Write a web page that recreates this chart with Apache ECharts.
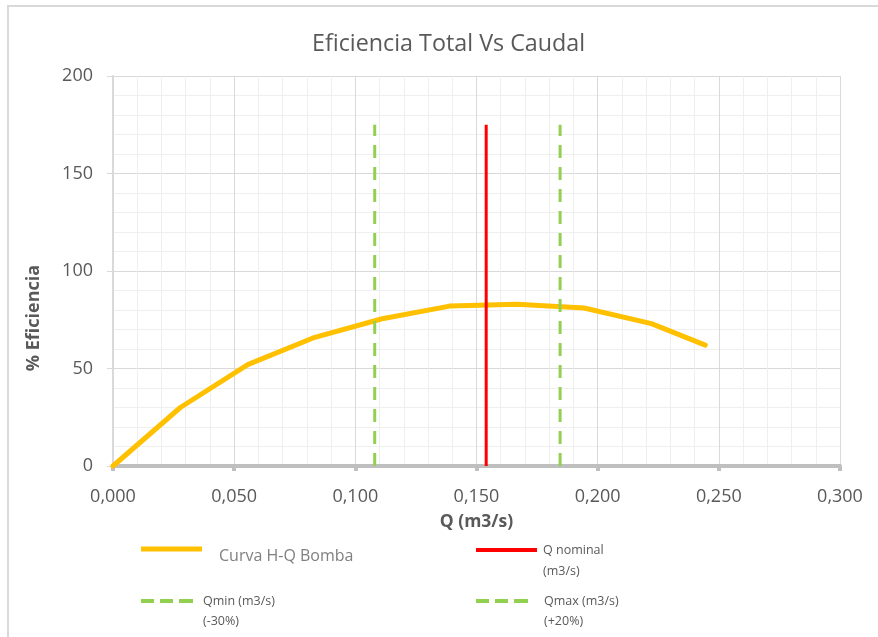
<!DOCTYPE html>
<html><head><meta charset="utf-8">
<script src="https://cdn.jsdelivr.net/npm/echarts@6/dist/echarts.min.js"></script>
<style>html,body{margin:0;padding:0;background:#fff}#c{width:878px;height:637px}</style>
</head><body><div id="c"></div>
<script>
const caudal = [0, 0.0278, 0.0556, 0.0833, 0.1111, 0.1389, 0.1667, 0.1944, 0.2222, 0.2444];
const eficiencia = [0, 30, 52, 66, 75.5, 82, 83, 81, 73, 62];
const qNominal = 0.154;
const qMin = 0.108;
const qMax = 0.1845;
const lineTop = 175;
const seriesNames = ['Curva H-Q Bomba', 'Q nominal\n(m3/s)', 'Qmin (m3/s)\n(-30%)', 'Qmax (m3/s)\n(+20%)'];

const FONT = 'Open Sans';
const chart = echarts.init(document.getElementById('c'), null, {renderer: 'canvas'});
const fmt = v => v.toFixed(3).replace('.', ',');
const dashIcon = 'path://M0,0h13v4h-13z M19,0h13v4h-13z M38,0h14v4h-14z';
const shiftDown = name => '\n' + name;
chart.setOption({
  animation: false,
  title: {text: 'Eficiencia Total Vs Caudal', left: 307, top: 28,
    textStyle: {fontFamily: FONT, fontSize: 23.3, fontWeight: 'normal', color: '#595959'}},
  grid: {left: 113, right: 38, top: 76, bottom: 171},
  xAxis: {type: 'value', min: 0, max: 0.3, interval: 0.05,
    name: 'Q (m3/s)', nameLocation: 'middle', nameGap: 47,
    nameTextStyle: {fontFamily: FONT, fontSize: 17.5, fontWeight: 'bold', color: '#595959'},
    axisLine: {show: true, onZero: false, lineStyle: {color: '#bfbfbf', width: 4}},
    axisTick: {show: true, length: 5, lineStyle: {color: '#bfbfbf', width: 4}},
    axisLabel: {formatter: fmt, fontFamily: FONT, fontSize: 18, color: '#595959', margin: 22},
    splitLine: {show: true, lineStyle: {color: '#d9d9d9', width: 1}},
    minorTick: {show: false, splitNumber: 5},
    minorSplitLine: {show: true, lineStyle: {color: '#efefef', width: 1}}
  },
  yAxis: {type: 'value', min: 0, max: 200, interval: 50,
    name: '% Eficiencia', nameLocation: 'middle', nameGap: 70,
    nameTextStyle: {fontFamily: FONT, fontSize: 18, fontWeight: 'bold', color: '#595959', padding: [0, 94, 0, 0]},
    axisLine: {show: true, lineStyle: {color: '#d9d9d9', width: 2}},
    axisTick: {show: true, length: 6, lineStyle: {color: '#d9d9d9', width: 1}},
    axisLabel: {fontFamily: FONT, fontSize: 18, color: '#595959', margin: 20},
    splitLine: {show: true, lineStyle: {color: '#d9d9d9', width: 1}},
    minorTick: {show: false, splitNumber: 5},
    minorSplitLine: {show: true, lineStyle: {color: '#efefef', width: 1}}
  },
  legend: [
    {data: [{name: seriesNames[0], icon: 'rect'}], left: 141, top: 534, padding: 0, selectedMode: false,
      itemWidth: 61, itemHeight: 5, formatter: shiftDown,
      textStyle: {fontFamily: FONT, color: '#7f7f7f', fontSize: 16, lineHeight: 14, padding: [0, 0, 0, 12]}},
    {data: [{name: seriesNames[1], icon: 'rect'}], left: 476, top: 518.5, padding: 0, selectedMode: false,
      itemWidth: 61, itemHeight: 4, formatter: shiftDown,
      textStyle: {fontFamily: FONT, color: '#595959', fontSize: 12.5, lineHeight: 21, padding: [0, 0, 0, 1]}},
    {data: [{name: seriesNames[2], icon: dashIcon}], left: 141, top: 571, padding: 0, selectedMode: false,
      itemWidth: 52, itemHeight: 4, formatter: shiftDown,
      textStyle: {fontFamily: FONT, color: '#595959', fontSize: 12.5, lineHeight: 20, padding: [0, 0, 0, 5]}},
    {data: [{name: seriesNames[3], icon: dashIcon}], left: 476, top: 571, padding: 0, selectedMode: false,
      itemWidth: 52, itemHeight: 4, formatter: shiftDown,
      textStyle: {fontFamily: FONT, color: '#595959', fontSize: 12.5, lineHeight: 20, padding: [0, 0, 0, 11]}}
  ],
  graphic: [{type: 'rect', shape: {x: 8, y: 6, width: 900, height: 700}, style: {fill: 'none', stroke: '#d9d9d9', lineWidth: 2}, silent: true}],
  series: [
    {name: seriesNames[0], type: 'line', symbol: 'none', z: 3,
      data: caudal.map((q, i) => [q, eficiencia[i]]),
      lineStyle: {color: '#ffc000', width: 5, cap: 'round', join: 'round'}, itemStyle: {color: '#ffc000'}},
    {name: seriesNames[1], type: 'line', symbol: 'none', z: 4,
      data: [[qNominal, 0], [qNominal, lineTop]],
      lineStyle: {color: '#ff0000', width: 3}, itemStyle: {color: '#ff0000'}},
    {name: seriesNames[2], type: 'line', symbol: 'none', z: 4,
      data: [[qMin, 0], [qMin, lineTop]],
      lineStyle: {color: '#92d050', width: 3, type: [13, 9]}, itemStyle: {color: '#92d050'}},
    {name: seriesNames[3], type: 'line', symbol: 'none', z: 4,
      data: [[qMax, 0], [qMax, lineTop]],
      lineStyle: {color: '#92d050', width: 3, type: [13, 9]}, itemStyle: {color: '#92d050'}}
  ]
});
</script></body></html>
